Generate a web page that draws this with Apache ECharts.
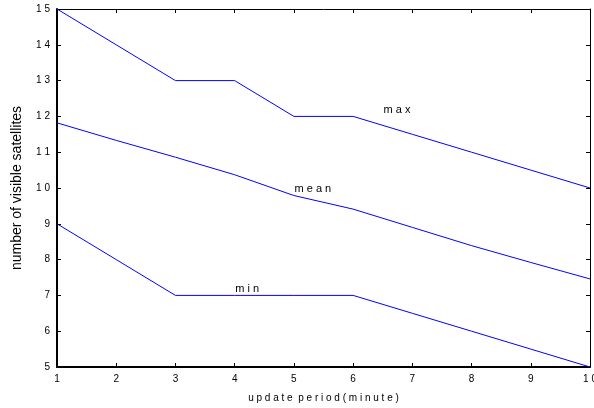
<!DOCTYPE html>
<html><head><meta charset="utf-8">
<script src="https://cdn.jsdelivr.net/npm/echarts@6/dist/echarts.min.js"></script>
<style>html,body{margin:0;padding:0;background:#fff}#c{width:594px;height:408px}</style>
</head><body><div id="c"></div>
<script>
var periods = [1, 2, 3, 4, 5, 6, 7, 8, 9, 10];
var maxVals = [15, 14, 13, 13, 12, 12, 11.5, 11, 10.5, 10];
var meanVals = [11.82, 11.33, 10.86, 10.37, 9.79, 9.41, 8.9, 8.39, 7.92, 7.46];
var minVals = [9, 8, 7, 7, 7, 7, 6.5, 6, 5.5, 5];
var seriesNames = ['max', 'mean', 'min'];
var labelAt = [[6.74, 12.17], [5.32, 9.97], [4.21, 7.17]];
var xTitle = 'update period(minute)';
var yTitle = 'number of visible satellites';

function spaced(s){ return String(s).split(' ').map(function(w){ return w.split('').join(' '); }).join('  '); }
function pairs(v){ return periods.map(function(p,i){ return [p, v[i]]; }); }
var font = 'Liberation Sans, Arial, sans-serif';
var vals = [maxVals, meanVals, minVals];
var series = vals.map(function(v, k){
  return {
    name: seriesNames[k], type: 'line', data: pairs(v), symbol: 'none',
    lineStyle: { color: '#0000ff', width: 1 }, silent: true, animation: false,
    markPoint: {
      symbol: 'circle', symbolSize: 0, silent: true, animation: false,
      data: [{ coord: labelAt[k], value: seriesNames[k] }],
      label: { show: true, position: 'inside', formatter: spaced(seriesNames[k]), color: '#000', fontSize: 11, fontFamily: font }
    }
  };
});
var chart = echarts.init(document.getElementById('c'), null, { renderer: 'canvas' });
chart.setOption({
  animation: false,
  grid: { left: 57, right: 4, top: 9, bottom: 41, outerBoundsMode: 'none', containLabel: false },
  xAxis: [{
    type: 'value', min: 1, max: 10, interval: 1, position: 'bottom',
    name: spaced(xTitle), nameLocation: 'middle', nameGap: 26,
    nameTextStyle: { fontSize: 10, color: '#000', fontFamily: font },
    axisLine: { lineStyle: { color: '#000', width: 2 } },
    axisTick: { inside: true, length: 4, lineStyle: { color: '#000' } },
    axisLabel: { fontSize: 10, color: '#000', margin: 7, fontFamily: font, formatter: function(v){ return spaced(v); } },
    splitLine: { show: false }
  }, {
    type: 'value', min: 1, max: 10, interval: 1, position: 'top',
    axisLine: { show: true, lineStyle: { color: '#000', width: 1 } },
    axisTick: { inside: true, length: 4, lineStyle: { color: '#000' } },
    axisLabel: { show: false }, splitLine: { show: false }
  }],
  yAxis: [{
    type: 'value', min: 5, max: 15, interval: 1, position: 'left',
    name: yTitle, nameLocation: 'middle', nameGap: 33, nameRotate: 90,
    nameTextStyle: { fontSize: 14, color: '#000', fontFamily: font },
    axisLine: { show: true, lineStyle: { color: '#000', width: 2 } },
    axisTick: { show: true, inside: true, length: 4, lineStyle: { color: '#000' } },
    axisLabel: { fontSize: 10, color: '#000', margin: 7, fontFamily: font, formatter: function(v){ return spaced(v); } },
    splitLine: { show: false }
  }, {
    type: 'value', min: 5, max: 15, interval: 1, position: 'right',
    axisLine: { show: true, lineStyle: { color: '#000', width: 1 } },
    axisTick: { show: true, inside: true, length: 4, lineStyle: { color: '#000' } },
    axisLabel: { show: false }, splitLine: { show: false }
  }],
  series: series
});
</script></body></html>
